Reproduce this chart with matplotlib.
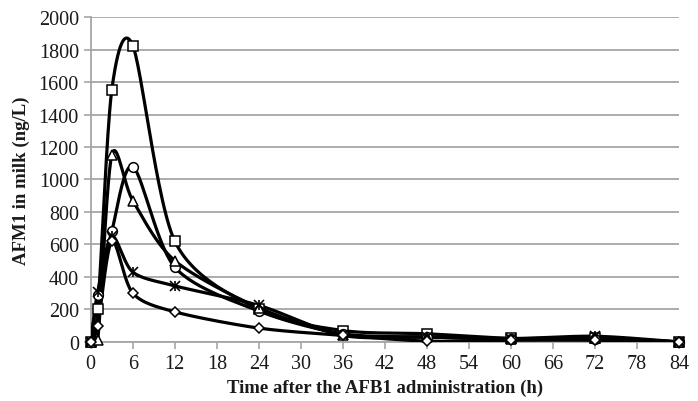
import numpy as np
import matplotlib
matplotlib.use("Agg")
import matplotlib.pyplot as plt

# Tempos de coleta (h)
tempos = [0, 1, 3, 6, 12, 24, 36, 48, 60, 72, 84]

# AFM1 no leite (ng/L) para cada animal
quadrado = [0, 200, 1550, 1825, 620, 200, 70, 50, 22, 22, 0]
circulo = [0, 290, 680, 1080, 460, 190, 50, 30, 20, 20, 0]
triangulo = [0, 10, 1150, 870, 500, 210, 45, 30, 20, 25, 0]
estrela = [0, 310, 650, 430, 345, 225, 40, 30, 20, 35, 0]
losango = [0, 100, 620, 300, 185, 85, 40, 5, 10, 10, 0]

x_ticks = list(range(0, 85, 6))
y_ticks = list(range(0, 2001, 200))


def suavizar(x, y, n=30, k=7.0):
    # curva suavizada estilo Excel (Bezier com pontos de controle)
    x = np.asarray(x, float)
    y = np.asarray(y, float)
    xs, ys = [], []
    for i in range(len(x) - 1):
        p0 = np.array([x[max(i - 1, 0)], y[max(i - 1, 0)]])
        p1 = np.array([x[i], y[i]])
        p2 = np.array([x[i + 1], y[i + 1]])
        p3 = np.array([x[min(i + 2, len(x) - 1)], y[min(i + 2, len(x) - 1)]])
        c1 = p1 + (p2 - p0) / k
        c2 = p2 - (p3 - p1) / k
        t = np.linspace(0, 1, n)[:, None]
        pts = ((1 - t) ** 3) * p1 + 3 * ((1 - t) ** 2) * t * c1 + 3 * (1 - t) * t ** 2 * c2 + t ** 3 * p2
        xs.extend(pts[:, 0])
        ys.extend(pts[:, 1])
    return xs, ys


plt.rcParams['font.family'] = ['Liberation Serif', 'DejaVu Serif']

fig = plt.figure(figsize=(6.98, 4.02), dpi=100)
ax = fig.add_axes([0.130, 0.147, 0.843, 0.808])

series = [
    (quadrado, 's', 7),
    (circulo, 'o', 7),
    (triangulo, '^', 7),
    (estrela, 'x', 7),
    (losango, 'D', 5),
]

for valores, marcador, tam in series:
    sx, sy = suavizar(tempos, valores)
    ax.plot(sx, sy, color='black', lw=2.3, zorder=3)
    if marcador == 'x':
        ax.plot(tempos, valores, ls='none', marker='x', ms=tam, mec='black', mew=1.2, zorder=4, clip_on=False)
        ax.plot(tempos, valores, ls='none', marker='|', ms=tam, mec='black', mew=1.2, zorder=4, clip_on=False)
    else:
        ax.plot(tempos, valores, ls='none', marker=marcador, ms=tam, mfc='white',
                mec='black', mew=1.1, zorder=4, clip_on=False)

ax.set_xlim(0, 84)
ax.set_ylim(0, 2000)
ax.set_xticks(x_ticks)
ax.set_yticks(y_ticks)
ax.grid(axis='y', color='#a6a6a6', lw=1.3)
ax.set_axisbelow(True)

for lado in ['top', 'right']:
    ax.spines[lado].set_visible(False)
ax.spines['left'].set_color('#a6a6a6')
ax.spines['bottom'].set_color('#a6a6a6')
ax.spines['left'].set_linewidth(1.3)
ax.spines['bottom'].set_linewidth(1.3)
ax.tick_params(axis='both', colors='#a6a6a6', labelcolor='#1a1a1a', labelsize=14.5, length=5, width=1.2)
ax.tick_params(axis='x', pad=4)

ax.set_xlabel('Time after the AFB1 administration (h)', fontsize=13.5, fontweight='bold', color='#1a1a1a')
ax.set_ylabel('AFM1 in milk (ng/L)', fontsize=13.5, fontweight='bold', color='#1a1a1a', labelpad=6)

fig.savefig('out.png', dpi=100)
